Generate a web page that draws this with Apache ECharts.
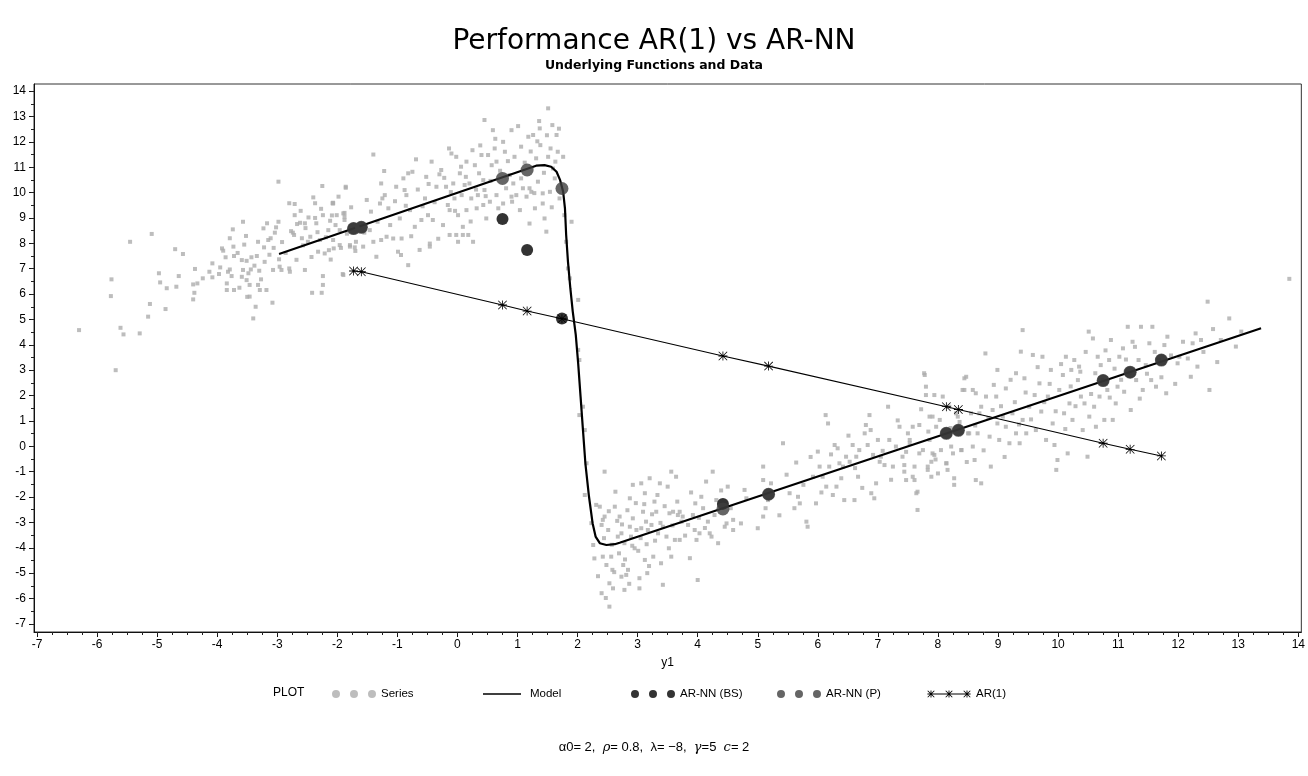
<!DOCTYPE html>
<html>
<head>
<meta charset="utf-8">
<title>Performance AR(1) vs AR-NN</title>
<script src="https://cdn.jsdelivr.net/npm/echarts@6/dist/echarts.min.js"></script>
<style>
  html, body { margin: 0; padding: 0; background: #fff; }
  #chart { width: 1308px; height: 776px; }
</style>
</head>
<body>
<div id="chart"></div>
<script>
// Axis tick labels
const xTicks = [-7, -6, -5, -4, -3, -2, -1, 0, 1, 2, 3, 4, 5, 6, 7, 8, 9, 10, 11, 12, 13, 14];
const yTicks = [-7, -6, -5, -4, -3, -2, -1, 0, 1, 2, 3, 4, 5, 6, 7, 8, 9, 10, 11, 12, 13, 14];

// Underlying model curve (y1 -> next value)
const modelX = [-2.97, 1.31, 1.45, 1.56, 1.65, 1.71, 1.76, 1.79, 1.81, 1.84, 1.88, 1.92, 1.97, 2.01, 2.05, 2.09, 2.13, 2.19, 2.25, 2.30, 2.37, 2.48, 2.62, 2.70, 13.38];
const modelY = [7.58, 11.06, 11.08, 11.02, 10.82, 10.49, 10.03, 9.38, 8.33, 7.28, 6.22, 5.31, 4.39, 3.27, 1.96, 0.64, -0.67, -1.98, -3.03, -3.56, -3.82, -3.89, -3.86, -3.80, 4.65];

// Forecast points at the test inputs
const testX = [-1.73, -1.60, 0.75, 1.16, 1.74, 4.42, 5.18, 8.14, 8.34, 10.75, 11.20, 11.72];
const ar1 = [6.91, 6.88, 5.57, 5.33, 5.03, 3.56, 3.16, 1.56, 1.45, 0.12, -0.12, -0.38];
const nnBS = [8.58, 8.63, 8.96, 7.74, 5.04, -2.27, -1.89, 0.51, 0.63, 2.59, 2.92, 3.40];
const nnP = [8.58, 8.63, 10.56, 10.89, 10.16, -2.47, -1.89, 0.51, 0.63, 2.59, 2.92, 3.40];

// Observed series (y1, y)
const seriesPts = [
  [-6.30,4.58],[-5.69,3.00],[-5.76,6.58],[-5.77,5.92],[-5.61,4.67],[-5.56,4.41],[-5.29,4.45],[-5.45,8.06],[-5.09,8.37],[-5.15,5.11],
  [-5.12,5.61],[-4.86,5.41],[-4.97,6.82],[-4.95,6.46],[-4.84,6.23],[-4.68,6.29],[-4.64,6.71],[-4.70,7.77],[-4.57,7.58],[-4.37,6.99],
  [-4.40,6.38],[-4.33,6.42],[-4.38,6.05],[-4.40,5.79],[-4.24,6.62],[-4.13,6.88],[-4.08,7.21],[-4.08,6.66],[-3.97,6.79],[-3.92,7.80],
  [-3.90,7.71],[-3.86,7.45],[-3.79,8.20],[-3.74,8.55],[-3.73,7.87],[-3.72,7.50],[-3.79,6.97],[-3.76,6.71],[-3.84,6.42],[-3.84,6.16],
  [-3.72,6.16],[-3.59,7.34],[-3.57,8.85],[-3.57,6.95],[-3.59,6.68],[-3.52,8.29],[-3.51,7.31],[-3.48,6.82],[-3.44,6.97],[-3.43,7.45],
  [-3.51,6.55],[-3.46,6.36],[-3.50,5.89],[-3.46,5.90],[-3.36,5.50],[-3.40,5.04],[-3.34,7.50],[-3.32,8.06],[-3.30,6.92],[-3.32,6.36],
  [-3.29,6.16],[-3.23,8.59],[-3.22,7.84],[-3.21,7.27],[-3.18,6.16],[-3.17,8.79],[-3.15,8.13],[-3.11,8.20],[-3.08,5.66],[-3.07,6.95],
  [-3.04,8.42],[-3.02,8.63],[-2.98,8.85],[-2.98,10.43],[-2.97,7.37],[-2.96,7.08],[-2.93,6.95],[-2.80,7.01],[-2.79,6.88],[-2.80,9.58],
  [-2.71,9.55],[-2.71,9.11],[-2.67,8.76],[-2.62,8.81],[-2.74,8.42],[-2.72,8.33],[-2.59,8.20],[-2.54,8.79],[-2.53,8.60],[-2.49,8.06],
  [-2.45,8.26],[-2.40,9.81],[-2.37,9.58],[-2.37,9.00],[-2.35,8.79],[-2.32,7.67],[-2.29,8.13],[-2.25,10.26],[-2.24,9.11],[-2.21,7.60],
  [-2.24,6.71],[-2.24,6.36],[-2.26,6.05],[-2.42,6.05],[-2.54,6.95],[-2.15,8.52],[-2.14,7.73],[-2.12,8.89],[-2.08,9.58],[-2.09,9.10],
  [-2.07,8.13],[-2.07,9.60],[-2.06,7.80],[-1.96,8.52],[-1.94,7.82],[-1.91,6.79],[-1.88,9.05],[-1.88,9.20],[-1.86,10.23],[-1.79,7.93],
  [-1.71,7.84],[-1.70,7.70],
  [-3.95,7.05],[-3.82,6.88],[-3.66,7.62],[-3.63,6.25],[-3.55,7.95],[-3.38,7.12],[-3.27,6.58],[-3.13,7.55],[-3.06,7.82],[-2.92,8.05],
  [-2.86,7.62],[-2.77,8.48],[-2.68,7.35],[-2.61,9.28],[-2.57,7.92],[-2.48,9.02],[-2.43,7.46],[-2.33,8.44],[-2.27,9.36],[-2.19,8.24],
  [-2.11,7.36],[-2.03,8.72],[-1.98,9.84],[-1.84,8.38],[-1.77,9.42],
  [-1.40,11.50],[-2.07,9.57],[-1.86,10.19],[-1.90,9.18],[-2.01,9.11],[-1.88,8.92],[-1.96,7.93],[-1.90,6.75],[-1.79,7.87],[-1.69,8.06],
  [-1.57,7.87],[-1.51,9.71],[-1.46,8.52],[-1.40,8.06],[-1.35,7.47],[-1.27,10.36],[-1.29,9.57],[-1.25,9.77],[-1.21,9.90],[-1.15,9.38],
  [-1.27,8.13],[-1.18,8.26],[-1.07,8.19],[-1.02,10.23],[-0.99,7.67],[-0.94,7.54],[-0.93,8.19],[-0.90,10.56],[-0.88,10.10],[-0.85,9.90],
  [-0.82,7.14],[-0.82,10.76],[-0.79,9.31],[-0.75,10.82],[-0.71,8.65],[-0.69,11.31],[-0.63,7.74],[-0.60,8.92],[-0.54,9.77],[-0.52,10.62],
  [-0.49,9.11],[-0.46,7.99],[-0.46,7.87],[-0.43,11.22],[-0.41,8.92],[-0.35,10.23],[-0.30,10.72],[-0.27,10.89],[-0.24,8.72],[-0.19,10.23],
  [-0.16,9.51],[-0.14,11.74],[-0.13,9.31],[-0.13,8.33],[-0.10,11.54],[-0.07,10.36],[-0.05,9.77],[-0.02,11.41],[0.01,9.11],[0.01,8.06],
  [0.04,10.76],[0.07,9.90],[0.09,8.65],[0.12,10.30],[0.15,11.22],[0.15,9.31],[0.18,8.33],[0.20,10.36],[0.23,9.77],[0.25,11.67],
  [0.26,8.06],[0.29,11.08],[0.32,9.38],[0.34,9.90],[0.36,10.76],[0.40,11.48],[0.43,9.51],[0.45,12.86],[0.45,10.10],[0.48,8.98],
  [0.51,11.48],[0.54,9.64],[0.57,11.08],[0.59,12.46],[0.62,11.74],[0.65,11.22],[0.65,9.90],[0.68,9.38],[0.76,12.00],[0.79,11.61],
  [0.81,10.17],[0.87,10.69],[0.90,12.46],[0.91,9.64],[0.95,11.41],[0.98,9.90],[1.04,9.31],[1.06,11.81],[1.09,10.17],[1.15,9.84],
  [1.18,12.20],[1.20,8.78],[1.23,10.03],[1.26,12.27],[1.29,9.38],[1.31,11.35],[1.34,10.43],[1.36,12.82],[1.37,12.53],[1.38,11.87],
  [1.42,9.57],[1.45,8.98],[1.48,8.46],[1.51,13.32],[1.51,11.41],[1.54,10.03],[1.55,11.74],[1.58,12.66],[1.59,10.95],[1.62,10.56],
  [1.65,12.27],[1.67,11.61],[1.70,9.77],[1.76,11.41],[1.78,9.11],[1.81,8.06],[1.84,7.01],[1.87,6.62],[2.01,5.77],[1.90,8.85],
  [1.42,9.97],[1.20,10.17],[1.06,10.56],[0.90,9.84],[0.76,9.57],[0.43,10.49],[-0.02,8.33],[0.09,8.33],
  [-1.55,8.42],[-1.44,9.25],[-1.33,8.85],[-1.22,10.85],[-1.12,8.72],[-1.04,9.66],[-0.96,8.98],[-0.86,9.48],[-0.77,8.28],[-0.66,10.12],
  [-0.58,9.46],[-0.48,10.34],[-0.38,9.62],[-0.32,8.18],[-0.22,10.58],[-0.11,10.02],[-0.04,9.28],[0.06,11.02],[0.14,10.62],[0.22,8.86],
  [0.31,10.12],[0.38,11.86],[0.47,9.86],[0.55,10.46],[0.63,12.12],[0.71,10.86],[0.84,11.24],[0.93,10.36],[1.01,12.62],[1.12,11.18],
  [1.22,11.62],[1.28,9.98],[1.33,12.02],[1.44,10.78],[1.49,12.26],[1.57,9.42],[1.63,11.22],[1.69,12.52],
  [2.01,3.80],[2.03,3.40],[2.09,1.56],[2.03,1.23],[2.12,0.64],[2.15,-0.67],[2.12,-1.92],[2.23,-3.03],[2.26,-3.89],[2.31,-2.31],
  [2.37,-2.38],[2.40,-3.10],[2.42,-2.90],[2.42,-4.35],[2.45,-2.77],[2.45,-1.00],[2.48,-4.68],[2.51,-3.30],[2.53,-5.40],[2.56,-4.35],
  [2.53,-6.32],[2.40,-5.79],[2.58,-4.87],[2.59,-5.60],[2.62,-2.38],[2.63,-1.79],[2.67,-3.56],[2.70,-2.77],[2.73,-5.14],[2.73,-3.43],
  [2.76,-4.68],[2.78,-5.66],[2.78,-3.82],[2.81,-5.07],[2.84,-4.87],[2.87,-2.05],[2.87,-3.17],[2.89,-3.56],[2.92,-1.52],[2.92,-2.84],
  [2.95,-4.02],[2.98,-3.30],[3.03,-5.20],[3.03,-5.60],[3.06,-1.46],[3.06,-3.23],[3.09,-2.58],[3.12,-4.48],[3.12,-1.85],[3.14,-2.97],
  [3.16,-5.00],[3.17,-3.30],[3.20,-1.26],[3.23,-3.10],[3.26,-4.35],[3.28,-2.18],[3.31,-2.58],[3.34,-3.43],[3.37,-1.46],[3.39,-4.61],
  [3.42,-3.17],[3.42,-5.46],[3.48,-3.56],[3.50,-1.59],[3.53,-2.64],[3.56,-1.00],[3.56,-4.35],[3.59,-2.58],[3.62,-3.69],[3.64,-1.20],
  [3.67,-2.71],[3.70,-2.58],[3.70,-3.69],[3.73,-2.97],[3.75,-2.77],[3.84,-3.10],[3.87,-4.41],[3.92,-2.71],[3.95,-3.30],[3.96,-2.25],
  [3.98,-3.69],[4.00,-5.27],[4.03,-3.43],[4.06,-1.99],[4.09,-2.44],[4.14,-1.39],[4.17,-2.97],[4.20,-3.43],[4.23,-3.56],[4.25,-1.00],
  [4.28,-2.71],[4.34,-3.82],[4.45,-3.17],[4.48,-3.04],[4.50,-1.59],[4.59,-2.90],[4.59,-3.30],[4.72,-3.04],[4.78,-1.72],[4.81,-2.05],
  [2.28,-4.42],[2.34,-5.12],[2.44,-3.62],[2.47,-5.98],[2.52,-2.56],[2.57,-3.88],[2.61,-4.96],[2.66,-2.94],[2.69,-4.22],[2.74,-3.08],
  [2.79,-4.46],[2.83,-2.52],[2.86,-5.42],[2.91,-3.92],[2.97,-2.24],[3.01,-4.12],[3.05,-3.62],[3.11,-2.28],[3.15,-3.86],[3.19,-4.72],
  [3.24,-2.68],[3.29,-3.72],[3.33,-1.92],[3.38,-3.02],[3.45,-2.36],[3.52,-4.02],[3.58,-3.12],[3.66,-2.18],[3.79,-3.52],[3.89,-1.82],
  [4.02,-2.82],[4.12,-3.22],[4.31,-2.12],[4.39,-1.74],[4.55,-2.44],
  [5.00,-3.23],[5.09,-0.80],[5.09,-1.33],[5.09,-2.77],[5.13,-2.44],[5.17,-2.12],[5.42,0.12],[5.53,-1.85],[5.61,-2.44],[5.67,-1.99],
  [5.70,-2.25],[5.81,-2.97],[5.83,-3.17],[5.92,-1.20],[5.97,-2.25],[6.00,-0.21],[6.03,-0.80],[6.08,-1.20],[6.13,1.23],[6.14,-1.59],
  [6.17,0.90],[6.19,-0.80],[6.25,-1.92],[6.28,0.05],[6.31,-1.59],[6.33,-0.08],[6.36,-0.67],[6.42,-0.80],[6.44,-2.12],[6.47,-0.41],
  [6.53,-0.61],[6.58,0.05],[6.61,-2.12],[6.64,-0.41],[6.67,-1.20],[6.69,-0.15],[6.78,0.51],[6.80,0.84],[6.83,0.05],[6.86,1.23],
  [6.89,-1.85],[6.92,-0.34],[6.94,-2.05],[6.97,-1.46],[7.00,0.25],[7.03,-0.61],[7.05,-0.41],[7.11,-0.74],[7.17,1.56],[7.19,0.25],
  [7.25,-0.80],[7.30,-0.01],[7.36,0.77],[7.41,-0.41],[7.44,-1.00],[7.50,0.51],[7.53,0.25],[7.58,-1.20],[7.61,-0.80],[7.64,-1.85],
  [7.66,-2.51],[7.69,0.84],[7.75,-0.15],[7.78,2.81],[7.80,2.02],[7.83,-0.93],[7.86,0.25],[7.89,-0.61],[7.91,1.17],[7.94,-0.34],
  [8.00,-1.07],[8.03,1.04],[8.05,-0.15],[8.08,1.96],[8.14,-0.67],[8.16,-0.93],[8.22,-0.01],[8.27,-1.52],[8.30,1.30],[8.39,-0.15],
  [8.41,2.22],[8.44,2.68],[8.50,0.51],[8.58,-0.01],[8.63,2.09],
  [5.22,-1.46],[5.36,-2.72],[5.48,-1.12],[5.64,-0.64],[5.76,-1.52],[5.88,-0.42],[6.06,-1.82],[6.22,-0.32],[6.39,-1.26],[6.51,0.42],
  [6.62,-0.86],[6.74,-1.64],[6.88,0.64],[7.08,-0.18],[7.22,-1.32],[7.33,1.02],[7.47,-0.22],[7.72,1.46],[7.84,0.58],[7.96,-0.52],
  [7.44,-0.74],[7.47,-1.33],[7.53,0.12],[7.58,0.77],[7.61,-1.33],[7.66,-1.79],[7.69,-0.28],[7.77,2.88],[7.80,2.35],[7.83,-0.80],
  [7.86,1.17],[7.89,-1.20],[7.91,-0.28],[7.94,2.02],[7.97,0.77],[8.14,-0.67],[8.19,1.56],[8.25,-0.28],[8.27,-1.26],[8.33,1.17],
  [8.39,-0.15],[8.44,2.22],[8.47,2.74],[8.52,0.51],[8.55,1.30],[8.58,2.22],[8.61,-0.54],[8.66,0.51],[8.69,1.30],[8.72,1.56],
  [8.80,1.96],[8.86,0.38],[8.91,1.43],[8.99,0.90],[9.08,1.17],[9.13,0.77],[9.30,0.51],[9.41,1.04],
  [8.63,-1.33],[8.72,-1.46],[8.79,3.66],[8.88,-0.80],[8.97,1.96],[8.99,3.01],[9.02,0.25],[9.13,2.28],[9.19,0.12],[9.24,1.30],
  [9.30,2.88],[9.36,0.12],[9.38,3.73],[9.41,4.58],[9.44,2.68],[9.47,0.51],[9.52,1.56],[9.58,3.60],[9.61,2.02],[9.63,0.64],
  [9.69,2.48],[9.72,1.37],[9.74,3.53],[9.80,0.25],[9.83,1.96],[9.88,3.01],[9.91,0.90],[9.94,0.05],[9.97,-0.93],[9.99,-0.54],
  [10.02,2.22],[10.08,2.81],[10.10,1.30],[10.13,3.53],[10.16,-0.28],[10.19,1.69],[10.22,3.01],[10.24,1.04],[10.27,3.40],[10.33,2.61],
  [10.35,3.14],[10.38,1.96],[10.41,0.64],[10.44,1.69],[10.49,-0.41],[10.51,4.52],[10.52,1.17],[10.58,4.25],[10.60,1.56],[10.63,0.77],
  [10.66,3.53],[10.69,1.96],[10.71,3.20],[10.74,2.61],[10.77,1.04],[10.82,2.22],[10.85,3.40],[10.88,4.19],[10.91,1.04],[10.96,1.69],
  [10.99,2.35],[11.02,3.53],[11.08,3.86],[11.10,2.15],[11.16,4.71],[11.19,2.88],[11.21,1.43],[11.24,4.12],[11.30,2.61],[11.34,3.40],
  [11.38,4.71],[11.41,2.22],[11.46,3.20],[11.52,4.06],[11.55,2.61],[11.57,4.71],[11.63,2.35],[11.68,3.40],[11.77,3.99],[11.80,2.09],
  [11.82,4.32],[11.99,3.27],[12.02,3.53],[12.21,2.74],[12.24,4.06],[12.29,4.45],[12.32,3.14],[12.38,4.19],[12.49,5.70],[12.52,2.22],
  [12.71,4.19],[12.85,5.04],[12.96,3.93],[13.85,6.60],
  [8.21,0.72],[8.36,0.96],[8.48,-0.62],[8.62,0.82],[8.76,-0.16],[8.84,1.12],[8.93,2.42],[9.05,1.58],[9.11,-0.42],[9.21,2.62],
  [9.28,1.74],[9.35,0.86],[9.46,2.12],[9.55,1.06],[9.66,3.12],[9.77,1.74],[9.86,2.46],[9.96,1.38],[10.05,3.24],[10.12,0.68],
  [10.21,2.36],[10.29,1.58],[10.37,2.94],[10.46,3.72],[10.55,2.06],[10.62,2.88],[10.79,3.78],[10.86,1.92],[10.94,3.06],[11.05,2.62],
  [11.13,3.42],[11.28,3.92],[11.36,1.88],[11.48,2.86],[11.61,3.72],[11.72,2.72],[11.88,3.58],[11.95,2.46],[12.08,4.12],[12.16,3.46],
  [12.42,3.72],[12.58,4.62],[12.65,3.32],[13.05,4.52]
];

// Legend entries, each placed at its own column
const legendNames = ['Series', 'Model', 'AR-NN (BS)', 'AR-NN (P)', 'AR(1)'];
const legendLeft = [327, 476, 626, 772, 922];

const FONT_TITLE = '"DejaVu Sans", Verdana, sans-serif';
const FONT_AXIS = '"Liberation Sans Narrow", "Liberation Sans", Arial, sans-serif';

function minorTicks(lo, hi, step) {
  const out = [];
  for (let v = lo; v <= hi + 1e-9; v += step) out.push(Math.round(v * 100) / 100);
  return out;
}

function zip(xs, ys) { return xs.map((x, i) => [x, ys[i]]); }

// Legend glyph paths; tiny zero-area triangles pin the box to 44x8
const BOX = 'M0,0 L0.01,0 L0,0.01 Z M44,8 L43.99,8 L44,7.99 Z ';
const threeDots = 'path://M0,4 a4,4 0 1,0 8,0 a4,4 0 1,0 -8,0 Z M18,4 a4,4 0 1,0 8,0 a4,4 0 1,0 -8,0 Z M36,4 a4,4 0 1,0 8,0 a4,4 0 1,0 -8,0 Z';
const lineGlyph = 'path://' + BOX + 'M2,3.2 L40,3.2 L40,4.8 L2,4.8 Z';
function starAt(cx, cy, r) {
  const w = 0.45;
  return 'M' + (cx - r) + ',' + (cy - w) + ' L' + (cx + r) + ',' + (cy - w) + ' L' + (cx + r) + ',' + (cy + w) + ' L' + (cx - r) + ',' + (cy + w) + ' Z ' +
    'M' + (cx - w) + ',' + (cy - r) + ' L' + (cx + w) + ',' + (cy - r) + ' L' + (cx + w) + ',' + (cy + r) + ' L' + (cx - w) + ',' + (cy + r) + ' Z ' +
    'M' + (cx - r) + ',' + (cy - r + 0.6) + ' L' + (cx - r + 0.6) + ',' + (cy - r) + ' L' + (cx + r) + ',' + (cy + r - 0.6) + ' L' + (cx + r - 0.6) + ',' + (cy + r) + ' Z ' +
    'M' + (cx + r - 0.6) + ',' + (cy - r) + ' L' + (cx + r) + ',' + (cy - r + 0.6) + ' L' + (cx - r + 0.6) + ',' + (cy + r) + ' L' + (cx - r) + ',' + (cy + r - 0.6) + ' Z ';
}
const starLineGlyph = 'path://' + BOX + 'M2,3.6 L42,3.6 L42,4.4 L2,4.4 Z ' + starAt(4, 4, 3.6) + starAt(22, 4, 3.6) + starAt(40, 4, 3.6);
const starSymbol = 'path://' + starAt(5, 5, 5);
const legendIcons = [threeDots, lineGlyph, threeDots, threeDots, starLineGlyph];

const chart = echarts.init(document.getElementById('chart'), null, { renderer: 'canvas' });

const axisCommon = {
  type: 'value',
  splitLine: { show: false },
  axisLine: { show: true, onZero: false, lineStyle: { color: '#111', width: 1 } }
};
const hiddenLine = { show: false, onZero: false };

const legends = legendNames.map((name, i) => ({
  left: legendLeft[i], top: 683,
  itemWidth: 44, itemHeight: 8,
  selectedMode: false,
  textStyle: { fontFamily: FONT_AXIS, fontSize: 11.5, color: '#000' },
  data: [{ name: name, icon: legendIcons[i] }]
}));

chart.setOption({
  backgroundColor: '#ffffff',
  animation: false,
  title: [
    {
      text: 'Performance AR(1) vs AR-NN',
      left: 'center', top: 23,
      textStyle: { fontFamily: FONT_TITLE, fontSize: 28, fontWeight: 'normal', color: '#000' }
    },
    {
      text: 'Underlying Functions and Data',
      left: 'center', top: 54,
      textStyle: { fontFamily: FONT_TITLE, fontSize: 12.5, fontWeight: 'bold', color: '#000' }
    },
    {
      text: 'PLOT',
      left: 268, top: 682,
      textStyle: { fontFamily: FONT_AXIS, fontSize: 12, fontWeight: 'normal', color: '#000' }
    },
    {
      text: '{t|α0= 2,  }{g|ρ}{t|= 0.8,  λ= −8,  }{g|γ}{t|=5  }{g|c}{t|= 2}',
      left: 'center', top: 736,
      textStyle: {
        rich: {
          t: { fontFamily: '"Liberation Sans", Arial, sans-serif', fontSize: 13, fontWeight: 'normal', color: '#000' },
          g: { fontFamily: '"DejaVu Serif", serif', fontStyle: 'italic', fontWeight: 'normal', fontSize: 13, color: '#000' }
        }
      }
    }
  ],
  legend: legends,
  grid: {
    left: 34, top: 84, width: 1268, height: 548,
    show: true, borderColor: '#333', borderWidth: 1, backgroundColor: 'transparent'
  },
  xAxis: [
    Object.assign({}, axisCommon, {
      min: -7.05, max: 14.05, position: 'bottom',
      name: 'y1', nameLocation: 'middle', nameGap: 25,
      nameTextStyle: { fontFamily: FONT_AXIS, fontSize: 12, color: '#000' },
      axisTick: { show: true, customValues: xTicks, length: 5, lineStyle: { color: '#111' } },
      axisLabel: { show: true, customValues: xTicks, margin: 7, fontFamily: FONT_AXIS, fontSize: 12, color: '#000' }
    }),
    Object.assign({}, axisCommon, {
      min: -7.05, max: 14.05, position: 'bottom',
      axisLine: hiddenLine,
      axisTick: { show: true, customValues: minorTicks(-7, 14, 0.25), length: 3, lineStyle: { color: '#222' } },
      axisLabel: { show: false }
    })
  ],
  yAxis: [
    Object.assign({}, axisCommon, {
      min: -7.32, max: 14.28, position: 'left',
      axisTick: { show: true, customValues: yTicks, length: 5, lineStyle: { color: '#111' } },
      axisLabel: { show: true, customValues: yTicks, margin: 8, fontFamily: FONT_AXIS, fontSize: 12, color: '#000' }
    }),
    Object.assign({}, axisCommon, {
      min: -7.32, max: 14.28, position: 'left',
      axisLine: hiddenLine,
      axisTick: { show: true, customValues: minorTicks(-7, 14, 0.5), length: 3, lineStyle: { color: '#222' } },
      axisLabel: { show: false }
    })
  ],
  series: [
    {
      name: 'Series', type: 'scatter', z: 1,
      symbol: 'rect', symbolSize: 4,
      itemStyle: { color: '#adadad' },
      data: seriesPts
    },
    {
      name: 'Model', type: 'line', z: 2,
      showSymbol: false, symbol: 'none',
      lineStyle: { color: '#000', width: 2.2 },
      itemStyle: { color: '#000' },
      data: zip(modelX, modelY)
    },
    {
      name: 'AR(1)', type: 'line', z: 3,
      symbol: starSymbol, symbolSize: 9, showAllSymbol: true,
      lineStyle: { color: '#000', width: 1.1 },
      itemStyle: { color: '#000' },
      data: zip(testX, ar1)
    },
    {
      name: 'AR-NN (BS)', type: 'scatter', z: 4,
      symbol: 'circle', symbolSize: 12,
      itemStyle: { color: '#000' },
      data: zip(testX, nnBS)
    },
    {
      name: 'AR-NN (P)', type: 'scatter', z: 5,
      symbol: 'circle', symbolSize: 13,
      itemStyle: { color: '#3f3f3f' },
      data: zip(testX, nnP)
    }
  ]
});
</script>
</body>
</html>
